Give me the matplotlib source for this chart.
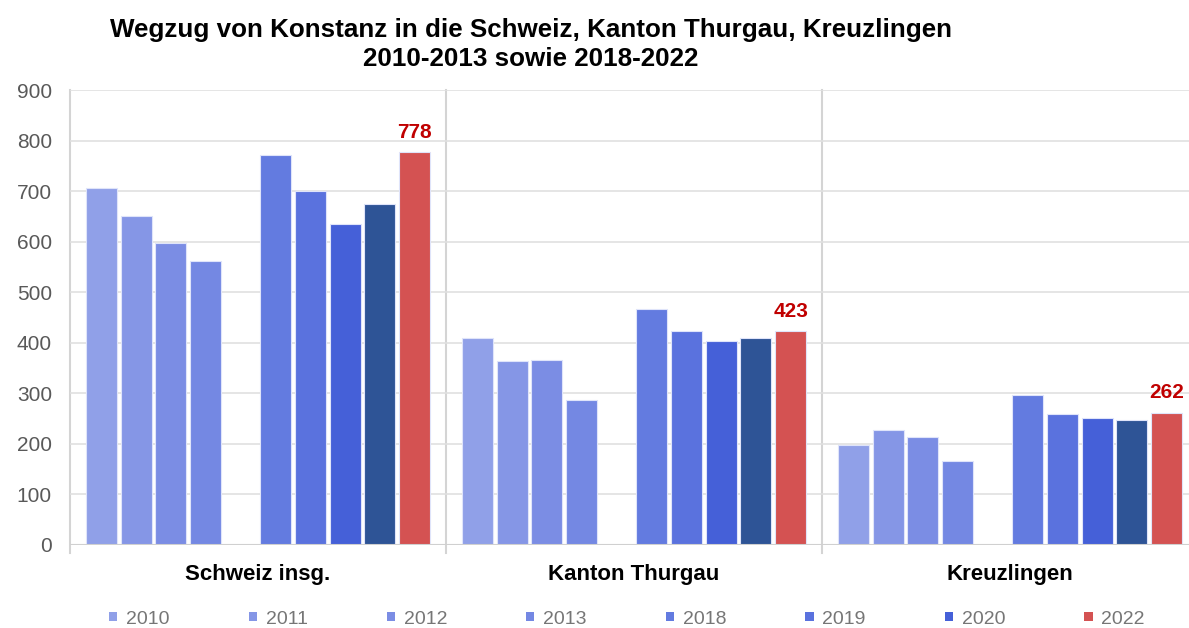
import matplotlib.pyplot as plt
from matplotlib.patches import Patch

# Daten: Wegzug von Konstanz
regionen = ['Schweiz insg.', 'Kanton Thurgau', 'Kreuzlingen']
jahre = ['2010', '2011', '2012', '2013', '2018', '2019', '2020', '2021', '2022']
werte = {
    '2010': [707, 410, 198],
    '2011': [651, 364, 228],
    '2012': [597, 366, 214],
    '2013': [561, 287, 166],
    '2018': [772, 466, 296],
    '2019': [701, 424, 260],
    '2020': [635, 403, 251],
    '2021': [675, 410, 247],
    '2022': [778, 423, 262],
}
farben = ['#90a0e8', '#8596e6', '#7b8de4', '#7488e3', '#637be0',
          '#5a72de', '#4560d8', '#2e5496', '#d45252']
# Legende ohne 2021 (wie im Original)
legende_jahre = ['2010', '2011', '2012', '2013', '2018', '2019', '2020', '2022']

plt.rcParams['font.family'] = ['Liberation Sans', 'DejaVu Sans']

fig = plt.figure(figsize=(11.89, 6.28), dpi=100)
ax = fig.add_axes([70 / 1189, 1 - 545 / 628, 1128 / 1189, 455 / 628])

slot = 0.0926
breite = 0.0824
# Slot 4 bleibt leer (Lücke zwischen 2013 und 2018)
slots = [0, 1, 2, 3, 5, 6, 7, 8, 9]
for j, jahr in enumerate(jahre):
    off = (slots[j] - 4.5) * slot
    xs = [i + off for i in range(len(regionen))]
    ax.bar(xs, werte[jahr], width=breite, color=farben[j],
           edgecolor='#dfe4fa', linewidth=0.8, zorder=3)
    if jahr == '2022':
        for x, v in zip(xs, werte[jahr]):
            ax.text(x, v + 28, str(v), ha='center', va='baseline', color='#c00000',
                    fontsize=15, fontweight='bold')

ax.set_xlim(-0.5, 2.5)
ax.set_ylim(0, 900)
ax.set_yticks(range(0, 901, 100))
ax.tick_params(axis='y', length=0, pad=13, labelsize=15, labelcolor='#595959')
ax.set_xticks([])
for s in ax.spines.values():
    s.set_visible(False)
ax.grid(axis='y', color='#e0e0e0', linewidth=1.2, zorder=0)
ax.axhline(0, color='#d0d0d0', linewidth=1.5, zorder=4)
for xv in [-0.5, 0.5, 1.5, 2.5]:
    ax.plot([xv, xv], [-16, 900], color='#d4d4d4', linewidth=1.5,
            clip_on=False, zorder=1)

for i, r in enumerate(regionen):
    ax.text(i, -69, r, ha='center', va='baseline', fontsize=16,
            fontweight='bold', color='black')

fig.text(531 / 1189, 1 - 37 / 628,
         'Wegzug von Konstanz in die Schweiz, Kanton Thurgau, Kreuzlingen',
         ha='center', va='baseline', fontsize=18.7, fontweight='bold')
fig.text(531 / 1189, 1 - 66 / 628, '2010-2013 sowie 2018-2022',
         ha='center', va='baseline', fontsize=18.7, fontweight='bold')

handles = [Patch(facecolor=farben[jahre.index(j)], edgecolor='none', label=j)
           for j in legende_jahre]
leg = fig.legend(handles=handles, loc='center', bbox_to_anchor=(627 / 1189, 1 - 619 / 628),
                 ncol=8, frameon=False, fontsize=14, handlelength=0.42,
                 handleheight=0.3, handletextpad=0.45, columnspacing=4.07)
for t in leg.get_texts():
    t.set_color('#767676')

fig.savefig('out.png', dpi=100)
